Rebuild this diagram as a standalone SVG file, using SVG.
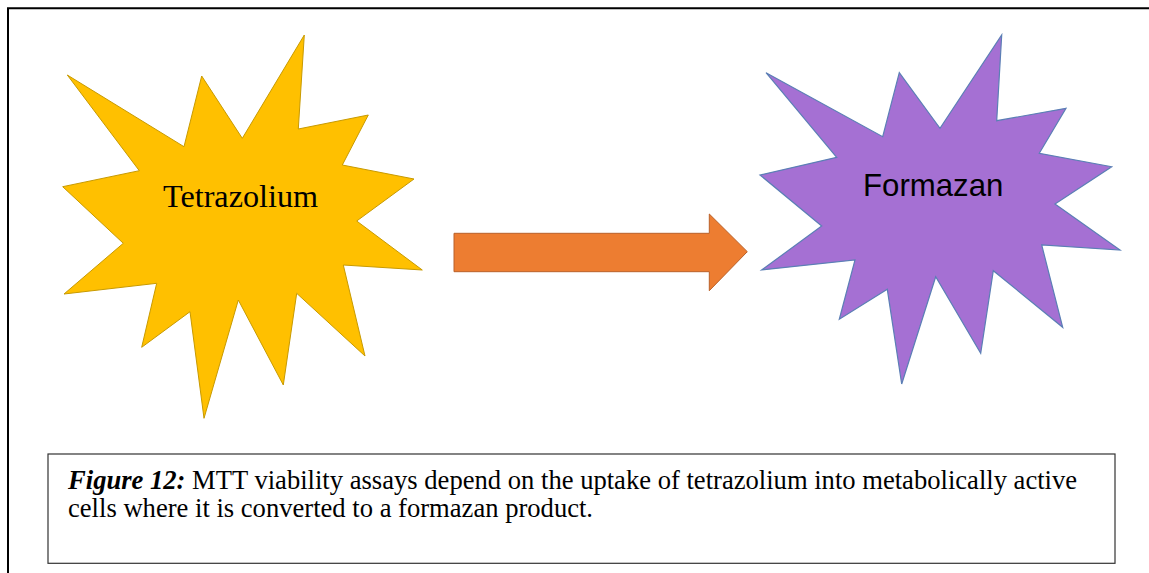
<svg xmlns="http://www.w3.org/2000/svg" width="1149" height="573" viewBox="0 0 1149 573">
<style>
.frame{fill:none;stroke:#000;stroke-width:2}
.yellow{fill:#FFC000;stroke:#C89A00;stroke-width:1}
.purple{fill:#A570D3;stroke:#5B7FB5;stroke-width:1.2}
.arrow{fill:#ED7D31;stroke:#B9612A;stroke-width:1}
.caption{fill:#fff;stroke:#333;stroke-width:1.2}
.serif{font-family:"Liberation Serif","Times New Roman",serif;fill:#000}
.sans{font-family:"Liberation Sans",Arial,sans-serif;fill:#000}
</style>
<rect width="1149" height="573" fill="#fff"/>
<path class="frame" d="M8,574 L8,8.3 L1150,8.3"/>
<g id="tetrazolium">
<polygon class="yellow" points="304.3,35 298.3,129 368.3,115 342.3,165 414,179 356.7,221 422.3,270 343.3,265 365,356 296.7,293.3 283.3,385 238.3,300 204,418.3 190,311.7 141.7,347.3 156.7,283.3 64,294 123.3,243.3 62.7,186.7 139.3,170.7 67.3,75 184,146.7 201.7,76 242.3,138.3"/>
<text class="serif" x="163" y="206.5" font-size="32.2">Tetrazolium</text>
</g>
<g id="formazan">
<polygon class="purple" points="1001.7,35 996.7,120.7 1066,108.3 1039.3,153.3 1111.7,166.7 1055,204 1120,250 1041.7,245 1062.7,327.3 993.3,270.7 980.7,353.3 935.7,276.7 901.7,384 887.3,289.3 839.3,319.3 855,260 761.7,270 821.7,226 760,175 836.7,157.3 766,72.7 882.7,136.7 899.3,72.7 940,128.3"/>
<text class="sans" x="863" y="196" font-size="31.2">Formazan</text>
</g>
<g id="connectors">
<polygon class="arrow" points="454,233.3 709.3,233.3 709.3,214 747.3,251.7 709.3,290.7 709.3,271.7 454,271.7"/>
</g>
<g id="caption">
<rect class="caption" x="48" y="454" width="1067" height="109.3"/>
<text class="serif" x="68" y="488.5" font-size="26.6"><tspan font-weight="bold" font-style="italic">Figure 12:</tspan> MTT viability assays depend on the uptake of tetrazolium into metabolically active</text>
<text class="serif" x="68" y="517" font-size="26.6">cells where it is converted to a formazan product.</text>
</g>
</svg>
